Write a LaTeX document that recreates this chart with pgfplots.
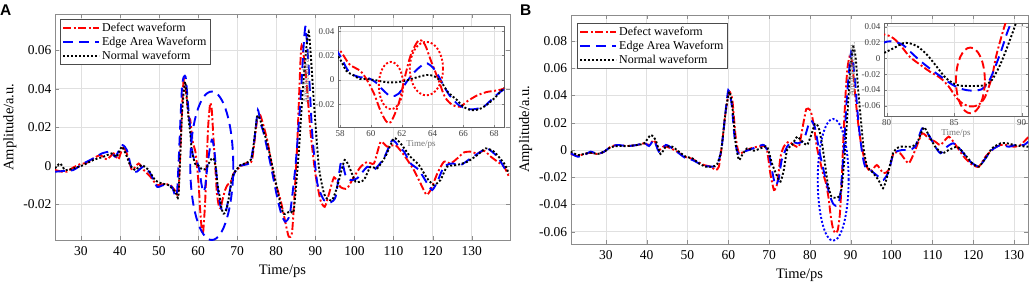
\documentclass[border=0pt]{standalone}
\usepackage{pgfplots}
\pgfplotsset{compat=1.18}
\usepackage{pgfplotstable}
\usepackage{fontspec}
\setmainfont{Liberation Serif}
\newfontfamily\panelfont{Liberation Sans}

% ---------------- Panel A data ----------------
\pgfplotstableread{
x y
23.4 -0.0022
25.0 -0.0030
26.4 -0.0031
28.0 -0.0010
29.9 0.0009
31.5 0.0015
33.2 0.0038
35.0 0.0055
36.7 0.0033
38.4 0.0064
39.6 0.0033
40.9 0.0099
42.2 0.0038
43.1 -0.0022
44.8 0.0012
46.1 -0.0022
47.8 -0.0057
49.5 -0.0100
51.2 -0.0095
52.9 -0.0100
54.2 -0.0130
55.0 -0.0126
56.3 0.0444
57.6 0.0254
58.0 0.0240
58.6 0.0129
59.3 0.0075
59.7 0.0008
60.2 -0.0113
60.6 -0.0248
61.0 -0.0342
61.3 -0.0345
61.8 -0.0194
62.2 0.0022
62.6 0.0210
63.1 0.0325
63.5 0.0291
63.9 0.0156
64.4 -0.0005
64.8 -0.0140
65.3 -0.0207
65.8 -0.0221
66.2 -0.0180
66.9 -0.0127
67.5 -0.0100
68.2 -0.0086
68.6 -0.0073
69.1 -0.0040
70.8 -0.0005
72.5 0.0016
73.8 0.0029
75.1 0.0237
75.9 0.0263
77.7 0.0133
79.4 -0.0057
81.1 -0.0178
82.3 -0.0290
83.2 -0.0368
84.1 -0.0334
85.3 0.0081
86.4 0.0617
87.5 0.0488
88.8 0.0168
90.0 -0.0040
91.3 -0.0178
92.4 -0.0213
93.4 -0.0152
94.8 -0.0060
96.4 -0.0110
98.1 -0.0118
99.9 -0.0057
101.6 -0.0005
103.3 0.0020
105.0 0.0012
106.7 0.0124
108.4 0.0099
110.5 0.0107
112.7 0.0055
115.2 -0.0022
116.9 -0.0091
118.4 -0.0150
119.5 -0.0126
121.2 -0.0040
122.9 0.0021
124.6 0.0012
126.3 0.0038
128.0 0.0069
129.7 0.0073
131.4 0.0064
133.2 0.0078
134.9 0.0047
136.6 0.0021
138.3 -0.0005
139.6 -0.0060
}\AdefTab

\pgfplotstableread{
x y
23.4 -0.0031
25.6 -0.0027
28.1 -0.0022
30.7 0.0012
33.2 0.0038
35.4 0.0064
37.5 0.0073
38.8 0.0047
39.6 0.0073
40.7 0.0107
41.8 0.0081
43.1 -0.0022
44.3 -0.0031
46.0 -0.0005
47.8 -0.0040
49.5 -0.0109
51.2 -0.0100
53.3 -0.0109
54.6 -0.0143
55.9 0.0410
56.8 0.0462
57.5 0.0300
58.0 0.0197
58.6 0.0062
59.3 0.0022
59.7 0.0022
60.3 -0.0019
60.8 -0.0086
61.3 -0.0135
61.8 -0.0113
62.3 -0.0019
62.9 0.0075
63.5 0.0135
63.8 0.0125
64.2 0.0075
64.6 -0.0019
65.1 -0.0127
65.7 -0.0207
66.2 -0.0234
66.6 -0.0242
67.3 -0.0221
67.9 -0.0154
68.6 -0.0081
70.0 -0.0005
71.7 0.0004
73.4 0.0020
74.5 0.0150
75.3 0.0289
76.0 0.0220
76.8 0.0168
78.5 0.0012
80.2 -0.0160
81.3 -0.0250
82.3 -0.0290
83.5 -0.0250
84.9 -0.0005
86.2 0.0340
87.0 0.0620
87.5 0.0721
88.3 0.0510
89.2 0.0168
90.5 -0.0090
92.2 -0.0178
93.9 -0.0190
95.2 -0.0160
96.4 0.0004
96.9 0.0020
97.7 -0.0048
99.0 -0.0074
100.7 -0.0065
103.3 -0.0005
105.0 -0.0022
107.5 0.0038
109.7 0.0133
111.4 0.0099
112.7 0.0073
114.4 0.0012
116.5 -0.0022
118.6 -0.0091
119.9 -0.0126
121.2 -0.0083
122.9 -0.0005
125.0 0.0012
127.2 0.0004
129.7 0.0038
132.3 0.0073
134.0 0.0090
136.6 0.0047
138.7 -0.0022
139.6 -0.0030
}\AedgeTab

\pgfplotstableread{
x y
23.4 -0.0014
24.7 0.0012
26.0 -0.0022
28.1 -0.0014
30.7 0.0004
33.2 0.0030
35.8 0.0047
37.9 0.0064
39.2 0.0047
40.5 0.0099
41.8 0.0047
42.6 0.0004
43.9 -0.0022
45.6 0.0004
47.3 -0.0022
49.0 -0.0074
50.7 -0.0092
52.4 -0.0100
54.2 -0.0135
55.0 -0.0152
55.9 0.0271
56.7 0.0436
57.6 0.0237
58.0 0.0170
58.4 0.0075
58.9 0.0035
59.3 0.0008
59.7 0.0008
60.4 -0.0005
61.0 -0.0019
61.7 -0.0019
62.3 -0.0005
63.0 0.0022
63.6 0.0040
64.0 0.0035
64.5 -0.0005
65.0 -0.0100
65.6 -0.0167
66.0 -0.0221
66.5 -0.0248
67.0 -0.0242
67.5 -0.0207
68.1 -0.0140
68.6 -0.0073
69.1 -0.0040
70.8 0.0003
72.5 0.0016
73.8 0.0047
75.1 0.0254
75.9 0.0237
77.7 0.0116
79.4 -0.0040
81.1 -0.0200
82.0 -0.0250
83.6 -0.0235
84.5 -0.0230
85.8 0.0080
87.0 0.0450
88.3 0.0695
89.6 0.0340
90.9 -0.0005
92.2 -0.0143
93.0 -0.0170
94.3 -0.0178
95.6 -0.0109
97.5 0.0030
99.0 -0.0022
100.3 -0.0083
102.4 -0.0074
104.1 -0.0005
105.8 -0.0014
107.9 0.0047
110.1 0.0142
111.8 0.0116
114.3 0.0047
116.5 0.0004
118.6 -0.0065
120.3 -0.0100
122.0 -0.0074
123.7 -0.0005
126.3 0.0004
128.9 0.0021
131.4 0.0055
133.6 0.0090
135.7 0.0073
138.3 0.0012
139.5 -0.0040
}\AnorTab

% ---------------- Panel B data ----------------
\pgfplotstableread{
x y
21.4 -0.0029
23.1 -0.0044
24.7 -0.0029
26.3 -0.0020
28.0 -0.0029
29.6 -0.0012
31.2 0.0024
32.9 0.0037
35.3 0.0029
37.7 0.0037
39.4 0.0049
40.6 0.0037
41.8 0.0073
43.0 0.0000
44.3 0.0029
45.9 0.0012
47.5 -0.0012
49.2 -0.0049
50.8 -0.0061
52.4 -0.0086
54.0 -0.0110
55.7 -0.0122
56.9 -0.0147
57.7 -0.0122
58.5 0.0049
59.3 0.0269
60.2 0.0428
61.0 0.0367
61.8 0.0098
62.6 -0.0024
63.8 -0.0012
65.5 0.0012
67.1 0.0024
68.7 0.0029
69.5 0.0000
70.3 -0.0171
71.2 -0.0294
72.0 -0.0245
72.8 -0.0049
73.6 0.0024
74.8 0.0061
76.0 0.0037
77.3 0.0024
78.1 0.0147
79.1 0.0300
80.0 0.0295
80.5 0.0253
81.0 0.0169
81.7 0.0021
82.5 -0.0084
83.2 -0.0169
84.0 -0.0253
84.6 -0.0359
85.1 -0.0485
85.6 -0.0570
86.2 -0.0610
86.8 -0.0590
87.3 -0.0485
87.8 -0.0232
88.1 0.0021
88.5 0.0274
88.8 0.0443
89.2 0.0600
89.7 0.0685
90.3 0.0650
91.1 0.0400
91.8 0.0200
92.5 0.0050
93.6 -0.0098
94.8 -0.0159
96.4 -0.0110
98.0 -0.0171
99.3 -0.0147
100.5 -0.0024
102.1 -0.0024
104.2 -0.0098
105.8 0.0000
107.5 0.0122
109.1 0.0086
110.7 0.0061
112.0 0.0037
114.0 0.0098
115.7 0.0037
117.7 -0.0049
119.8 -0.0110
121.4 -0.0122
123.0 -0.0049
125.1 0.0012
126.7 0.0037
128.3 0.0037
130.0 0.0024
131.6 0.0037
133.5 0.0095
}\BdefTab

\pgfplotstableread{
x y
21.4 -0.0024
23.1 -0.0049
24.7 -0.0037
26.3 -0.0012
28.0 -0.0029
29.6 -0.0012
31.2 0.0024
32.9 0.0037
35.3 0.0029
37.7 0.0037
39.4 0.0054
40.6 0.0029
41.8 0.0073
43.0 -0.0012
44.7 0.0037
46.3 0.0012
47.9 -0.0024
49.6 -0.0061
51.2 -0.0073
52.8 -0.0098
54.4 -0.0117
56.1 -0.0122
57.3 -0.0110
58.3 0.0000
59.2 0.0245
60.0 0.0440
60.8 0.0343
61.6 0.0073
62.4 -0.0024
63.8 -0.0012
65.5 0.0005
67.1 0.0024
68.7 0.0037
69.9 -0.0024
70.7 -0.0147
71.5 -0.0257
72.3 -0.0220
73.1 -0.0073
74.4 0.0024
75.6 0.0061
76.9 0.0049
78.1 0.0061
78.9 0.0110
79.6 0.0180
80.0 0.0211
80.5 0.0211
81.2 0.0169
82.0 0.0042
82.7 -0.0063
83.5 -0.0169
84.2 -0.0253
84.9 -0.0338
85.7 -0.0395
86.4 -0.0410
87.0 -0.0395
87.5 -0.0316
88.0 -0.0127
88.5 0.0105
89.0 0.0359
89.5 0.0550
90.1 0.0720
90.6 0.0640
91.1 0.0490
91.9 0.0196
92.8 -0.0024
93.5 -0.0120
94.8 -0.0147
96.8 -0.0196
98.0 -0.0220
99.3 -0.0159
100.5 -0.0024
102.6 0.0000
104.2 0.0000
105.8 0.0024
107.5 0.0159
109.1 0.0110
110.7 0.0024
112.0 -0.0024
113.6 0.0024
115.2 0.0049
117.3 -0.0012
119.3 -0.0086
121.4 -0.0122
123.0 -0.0061
124.6 0.0000
126.7 0.0037
128.7 0.0024
130.4 0.0037
132.4 0.0037
133.5 0.0061
}\BedgeTab

\pgfplotstableread{
x y
21.4 -0.0012
23.1 -0.0037
24.7 -0.0029
26.3 -0.0020
28.0 -0.0029
29.6 -0.0012
31.2 0.0020
32.9 0.0029
35.3 0.0029
37.7 0.0037
39.4 0.0049
41.0 0.0110
42.2 0.0073
43.4 -0.0029
44.7 0.0024
46.3 0.0024
47.9 -0.0012
49.6 -0.0049
51.2 -0.0061
52.8 -0.0098
54.4 -0.0122
56.1 -0.0122
57.3 -0.0103
58.3 0.0000
59.2 0.0245
60.2 0.0428
61.0 0.0318
61.8 0.0049
62.6 -0.0073
63.4 -0.0037
64.6 0.0012
66.3 -0.0005
67.9 0.0012
69.5 0.0024
70.7 -0.0098
72.0 -0.0196
72.8 -0.0232
73.6 -0.0147
74.4 0.0000
75.6 0.0037
76.9 0.0098
78.1 0.0061
79.3 0.0037
80.0 0.0084
80.5 0.0127
81.2 0.0190
81.7 0.0190
82.3 0.0148
83.0 0.0042
83.7 -0.0105
84.4 -0.0253
85.2 -0.0338
85.9 -0.0350
86.7 -0.0350
87.3 -0.0338
87.8 -0.0274
88.4 -0.0084
88.9 0.0127
89.4 0.0359
89.9 0.0600
90.6 0.0758
91.2 0.0680
91.8 0.0450
92.4 0.0250
93.2 0.0000
94.0 -0.0120
95.2 -0.0159
96.8 -0.0220
97.9 -0.0281
98.8 -0.0208
100.5 -0.0012
102.1 0.0024
104.6 0.0024
106.2 0.0049
107.9 0.0166
109.1 0.0110
110.7 0.0024
112.4 -0.0024
114.0 0.0000
116.1 0.0024
117.7 -0.0024
119.8 -0.0098
121.4 -0.0122
123.0 -0.0061
124.6 0.0012
126.7 0.0049
128.3 0.0049
130.0 0.0037
131.6 0.0029
133.5 0.0024
}\BnorTab

\pgfplotsset{
  mainax/.style={
    scale only axis,
    scaled ticks=false,
    axis line style={black!45},
    grid=major,
    grid style={black!12, line width=0.5pt},
    tick style={black!45},
    tick align=inside,
    major tick length=4pt,
    tick label style={font=\fontsize{13.5}{15}\selectfont},
    xticklabel style={yshift=-3pt},
    label style={font=\fontsize{14.5}{16}\selectfont},
    xlabel style={yshift=-2pt},
    /pgf/number format/assume math mode=true,
    xlabel={Time/ps},
    ylabel={Amplitude/a.u.},
    legend cell align=left,
    legend style={draw=black!70, fill=white, font=\fontsize{12}{13}\selectfont,
      inner xsep=2pt, inner ysep=1.5pt, row sep=0pt},
  },
  insetax/.style={
    scale only axis,
    scaled ticks=false,
    axis background/.style={fill=white},
    axis line style={black!60},
    grid=major,
    grid style={black!12, line width=0.4pt},
    tick style={black!50},
    tick align=inside,
    major tick length=2.5pt,
    tick label style={font=\fontsize{9}{10}\selectfont, black!75},
    label style={font=\fontsize{9}{10}\selectfont, black!55},
    /pgf/number format/assume math mode=true,
    xlabel={Time/ps},
    ylabel={Amplitude/a.u.},
    xlabel style={yshift=3pt},
    ylabel style={yshift=-2pt},
  },
  longleg/.style={legend image code/.code={\draw[##1] (0pt,0pt) -- (36pt,0pt);}},
  defect/.style={red, line width=1.9pt, dash pattern=on 8pt off 2.5pt on 2pt off 2.5pt},
  edge/.style={blue, line width=1.9pt, dash pattern=on 10pt off 6pt},
  normal/.style={black, line width=1.9pt, dash pattern=on 2pt off 2pt},
}

\begin{document}
\begin{tikzpicture}
\path[use as bounding box] (0pt,0pt) rectangle (1031pt,285pt);
\node[anchor=north west, inner sep=0pt, font=\panelfont\bfseries\fontsize{15.5}{16}\selectfont] at (0pt,280pt) {A};
\node[anchor=north west, inner sep=0pt, font=\panelfont\bfseries\fontsize{15.5}{16}\selectfont] at (520pt,280pt) {B};

% ---------------- Panel A main ----------------
\begin{axis}[mainax, at={(55pt,45pt)}, anchor=south west,
  width=455pt, height=226pt,
  xmin=23.4, xmax=139.8, ymin=-0.0385, ymax=0.0787,
  xtick={30,40,...,130},
  ytick={-0.02,0,0.02,0.04,0.06},
  yticklabels={-0.02,0,0.02,0.04,0.06},
  legend style={at={(0.011,0.978)}, anchor=north west},
]
\addplot[defect, smooth, tension=0.35, longleg] table {\AdefTab};
\addlegendentry{Defect waveform}
\addplot[edge, smooth, tension=0.35, longleg] table {\AedgeTab};
\addlegendentry{Edge Area Waveform}
\addplot[normal, smooth, tension=0.35, longleg] table {\AnorTab};
\addlegendentry{Normal waveform}
\draw[blue, line width=1.9pt, dash pattern=on 10pt off 6pt] (axis cs:63.5,0) ellipse [x radius=5.5, y radius=0.0385];
\end{axis}

% ---------------- Panel A inset ----------------
\begin{axis}[insetax, at={(338pt,158pt)}, anchor=south west,
  width=166pt, height=101pt,
  xmin=57.86, xmax=68.64, ymin=-0.0387, ymax=0.0443,
  xtick={58,60,...,68},
  ytick={-0.02,0,0.02,0.04},
  yticklabels={-0.02,0,0.02,0.04},
]
\addplot[defect, smooth] table {\AdefTab};
\addplot[edge, smooth] table {\AedgeTab};
\addplot[normal, smooth] table {\AnorTab};
\draw[red, line width=1.9pt, dash pattern=on 2pt off 2pt] (axis cs:61.3,-0.0046) ellipse [x radius=0.79, y radius=0.0194];
\draw[red, line width=1.9pt, dash pattern=on 2pt off 2pt] (axis cs:63.6,0.0093) ellipse [x radius=1.08, y radius=0.022];
\end{axis}

% ---------------- Panel B main ----------------
\begin{axis}[mainax, at={(570.7pt,41pt)}, anchor=south west,
  width=457.6pt, height=229pt,
  xmin=21.4, xmax=133.5, ymin=-0.069, ymax=0.0991,
  xtick={30,40,...,130},
  ytick={-0.06,-0.04,-0.02,0,0.02,0.04,0.06,0.08},
  yticklabels={-0.06,-0.04,-0.02,0,0.02,0.04,0.06,0.08},
  legend style={at={(0.014,0.965)}, anchor=north west},
]
\addplot[defect, smooth, tension=0.35, longleg] table {\BdefTab};
\addlegendentry{Defect waveform}
\addplot[edge, smooth, tension=0.35, longleg] table {\BedgeTab};
\addlegendentry{Edge Area Waveform}
\addplot[normal, smooth, tension=0.35, longleg] table {\BnorTab};
\addlegendentry{Normal waveform}
\draw[blue, line width=1.9pt, dash pattern=on 2pt off 2pt] (axis cs:85.7,-0.0219) ellipse [x radius=3.78, y radius=0.0447];
\end{axis}

% ---------------- Panel B inset ----------------
\begin{axis}[insetax, at={(884pt,169.3pt)}, anchor=south west,
  width=144pt, height=92.4pt,
  xmin=79.8, xmax=90.47, ymin=-0.0727, ymax=0.0443,
  xtick={80,85,90},
  ytick={-0.06,-0.04,-0.02,0,0.02,0.04},
  yticklabels={-0.06,-0.04,-0.02,0,0.02,0.04},
]
\addplot[defect, smooth] table {\BdefTab};
\addplot[edge, smooth] table {\BedgeTab};
\addplot[normal, smooth] table {\BnorTab};
\draw[red, line width=1.9pt, dash pattern=on 8pt off 4pt] (axis cs:86.2,-0.028) ellipse [x radius=1.07, y radius=0.0416];
\end{axis}
\end{tikzpicture}
\end{document}
